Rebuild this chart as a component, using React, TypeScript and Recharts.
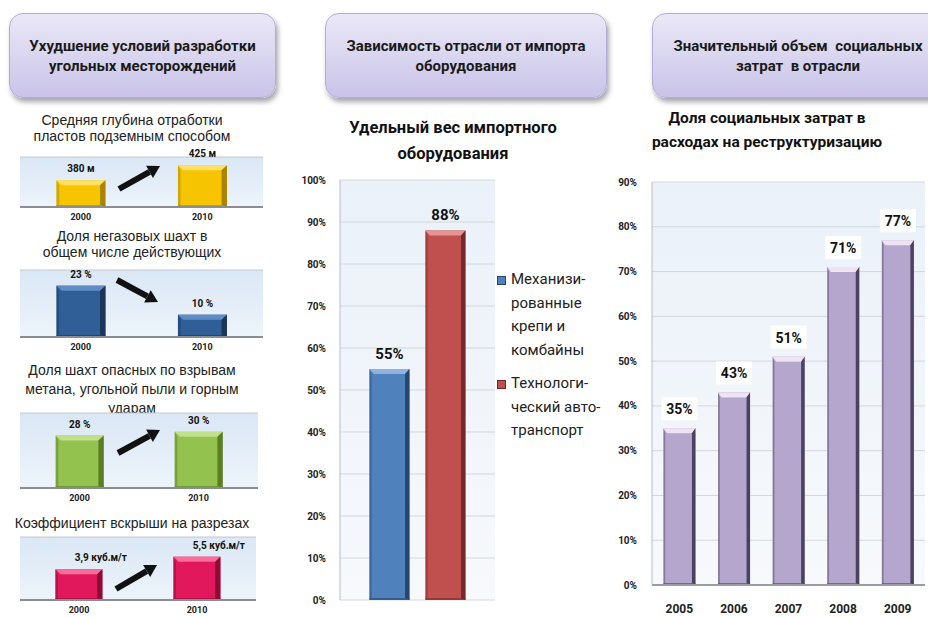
import React from "react";
import { BarChart, Bar, XAxis, YAxis, CartesianGrid, LabelList, Legend } from "recharts";

// --- mining conditions, 2000 vs 2010 ---
const pairYears = ["2000", "2010"];
const miningDepth = [380, 425]; // м
const nonGassyShare = [23, 10]; // %
const hazardousShare = [28, 30]; // %
const strippingRatio = [3.9, 5.5]; // куб.м/т

// --- import share of equipment ---
const importGroups = ["Оборудование"];
const mechanizedShare = [55];
const truckShare = [88];
const importTicks = [0, 10, 20, 30, 40, 50, 60, 70, 80, 90, 100];

// --- social costs in restructuring spend ---
const socialYears = ["2005", "2006", "2007", "2008", "2009"];
const socialShare = [35, 43, 51, 71, 77];
const socialTicks = [0, 10, 20, 30, 40, 50, 60, 70, 80, 90];

const headFont = "Roboto, 'Noto Sans', sans-serif";
const bodyFont = "'Liberation Sans', Arial, sans-serif";

type Tone = { base: string; dark: string; light: string };

const TONES: Record<string, Tone> = {
  gold: { base: "#f6c400", dark: "#a98400", light: "#ffe066" },
  navy: { base: "#305f98", dark: "#1a3659", light: "#5f8cc4" },
  green: { base: "#93c24f", dark: "#5a7d26", light: "#c0e08a" },
  pink: { base: "#e1195c", dark: "#8a0c34", light: "#f56d98" },
  blue: { base: "#4f81bd", dark: "#27466e", light: "#8fb2de" },
  red: { base: "#c0504d", dark: "#74282a", light: "#e29593" },
  lilac: { base: "#b5a6cd", dark: "#4b4160", light: "#efe2f3" },
};

// bar with bevelled edges, like Office 3D column
const bevel = (tone: Tone) => (p: any) => {
  const { x, y, width: w, height: h } = p;
  if (!h || h <= 0) return <g />;
  const e = Math.max(2, w * 0.11);
  const t = Math.min(5, h / 3);
  return (
    <g>
      <rect x={x} y={y} width={w} height={h} fill={tone.base} />
      <polygon points={`${x},${y} ${x + w},${y} ${x + w - e},${y + t} ${x + e},${y + t}`} fill={tone.light} />
      <polygon points={`${x + w},${y} ${x + w},${y + h} ${x + w - e},${y + h - 2} ${x + w - e},${y + t}`} fill={tone.dark} />
      <polygon points={`${x},${y} ${x + e * 0.5},${y + t} ${x + e * 0.5},${y + h - 2} ${x},${y + h}`} fill={tone.dark} opacity={0.45} />
      <rect x={x} y={y + h - 2} width={w} height={2} fill={tone.dark} opacity={0.6} />
    </g>
  );
};

const wall = (id: string, from: string, to: string) => (
  <defs>
    <linearGradient id={id} x1="0" y1="0" x2="0" y2="1">
      <stop offset="0%" stopColor={from} />
      <stop offset="100%" stopColor={to} />
    </linearGradient>
  </defs>
);

const box = (p: any) => {
  const vb = p.viewBox || {};
  return {
    x: (vb.x ?? p.x) as number,
    y: (vb.y ?? p.y) as number,
    w: (vb.width ?? p.width) as number,
  };
};

const valueLabel = (format: (v: number) => string, dx: number, size: number, gap: number) => (p: any) => {
  const { x, y, w } = box(p);
  return (
    <text x={x + w / 2 + dx} y={y - gap} textAnchor="middle" fontFamily={headFont} fontWeight={700} fontSize={size} fill="#111">
      {format(Number(p.value))}
    </text>
  );
};

const boxedLabel = (p: any) => {
  const { x, y, w } = box(p);
  const cx = x + w / 2;
  return (
    <g>
      <rect x={cx - 18} y={y - 31} width={36} height={23} fill="#fff" />
      <text x={cx} y={y - 14} textAnchor="middle" fontFamily={headFont} fontWeight={700} fontSize={14} fill="#111">
        {`${p.value}%`}
      </text>
    </g>
  );
};

const comma = (v: number) => String(v).replace(".", ",");

type MiniProps = {
  id: string;
  top: number;
  width: number;
  marginTop: number;
  plotHeight: number;
  values: number[];
  domain: [number, number];
  tone: Tone;
  format: (v: number) => string;
  labelDx?: number;
};

function MiniChart({ id, top, width, marginTop, plotHeight, values, domain, tone, format, labelDx = 0 }: MiniProps) {
  const data = pairYears.map((year, i) => ({ year, value: values[i] }));
  return (
    <div style={{ position: "absolute", left: 20, top }}>
      <BarChart
        width={width}
        height={marginTop + plotHeight + 18}
        data={data}
        margin={{ top: marginTop, right: 0, bottom: 0, left: 0 }}
        barCategoryGap="30%"
      >
        {wall(id, "#dae7f5", "#edf4fb")}
        <CartesianGrid vertical={false} stroke="#c4c9d0" fill={`url(#${id})`} />
        <XAxis
          dataKey="year"
          height={18}
          interval={0}
          tickLine={false}
          tickMargin={1}
          axisLine={{ stroke: "#8a8d92", strokeWidth: 2 }}
          tick={{ fontSize: 9, fontWeight: 700, fill: "#222", fontFamily: headFont }}
        />
        <YAxis width={0} domain={domain} ticks={[domain[1]]} tick={false} tickLine={false} axisLine={{ stroke: "#b2b6bc" }} />
        <YAxis
          yAxisId="edge"
          orientation="right"
          width={0}
          domain={[0, 1]}
          tick={false}
          tickLine={false}
          axisLine={{ stroke: "#8d9197", strokeWidth: 4 }}
        />
        <Bar dataKey="value" shape={bevel(tone)} isAnimationActive={false}>
          <LabelList dataKey="value" content={valueLabel(format, labelDx, 10, 8)} />
        </Bar>
      </BarChart>
    </div>
  );
}

function Header({ left, width, lines }: { left: number; width: number; lines: string[] }) {
  return (
    <div
      style={{
        position: "absolute",
        left,
        top: 13,
        width,
        height: 85,
        boxSizing: "border-box",
        borderRadius: 14,
        border: "1px solid #b2add6",
        background: "linear-gradient(#eae8f7, #c9c4e8)",
        boxShadow: "2px 4px 5px rgba(60,60,80,0.45)",
        display: "flex",
        flexDirection: "column",
        justifyContent: "center",
        alignItems: "center",
        fontFamily: headFont,
        fontWeight: 700,
        fontSize: 15,
        lineHeight: "20px",
        color: "#1a1a1a",
      }}
    >
      {lines.map((l) => (
        <div key={l} style={{ whiteSpace: "pre" }}>
          {l}
        </div>
      ))}
    </div>
  );
}

function Caption({ top, lines, lineHeight }: { top: number; lines: string[]; lineHeight: number }) {
  return (
    <div
      style={{
        position: "absolute",
        left: 0,
        top,
        width: 264,
        textAlign: "center",
        fontFamily: bodyFont,
        fontSize: 14,
        lineHeight: `${lineHeight}px`,
        color: "#222",
        whiteSpace: "nowrap",
      }}
    >
      {lines.map((l) => (
        <div key={l}>{l}</div>
      ))}
    </div>
  );
}

// thick black trend arrow between the two columns
function Arrow({ x1, y1, x2, y2 }: { x1: number; y1: number; x2: number; y2: number }) {
  const dx = x2 - x1;
  const dy = y2 - y1;
  const len = Math.hypot(dx, dy);
  const ux = dx / len;
  const uy = dy / len;
  const bx = x2 - ux * 12;
  const by = y2 - uy * 12;
  const nx = -uy * 7;
  const ny = ux * 7;
  return (
    <g>
      <line x1={x1} y1={y1} x2={bx} y2={by} stroke="#111" strokeWidth={6} />
      <polygon points={`${x2},${y2} ${bx + nx},${by + ny} ${bx - nx},${by - ny}`} fill="#111" />
    </g>
  );
}

const importSeries = [
  { key: "mech", values: mechanizedShare, tone: TONES.blue, lines: ["Механизи-", "рованные", "крепи и", "комбайны"] },
  { key: "tech", values: truckShare, tone: TONES.red, lines: ["Технологи-", "ческий авто-", "транспорт"] },
];

function ImportLegend() {
  return (
    <div style={{ fontFamily: headFont, fontSize: 15, lineHeight: "23.5px", color: "#222" }}>
      {importSeries.map((s, i) => (
        <div key={s.key} style={{ position: "relative", paddingLeft: 14, marginTop: i ? 10 : 0 }}>
          <span
            style={{
              position: "absolute",
              left: 0,
              top: 8,
              width: 7,
              height: 7,
              background: s.tone.base,
              border: `1px solid ${s.tone.dark}`,
            }}
          />
          {s.lines.map((l) => (
            <div key={l} style={{ whiteSpace: "pre" }}>
              {l}
            </div>
          ))}
        </div>
      ))}
    </div>
  );
}

export default function App() {
  const importData = importGroups.map((group, i) => ({
    group,
    mech: mechanizedShare[i],
    tech: truckShare[i],
  }));
  const socialData = socialYears.map((year, i) => ({ year, share: socialShare[i] }));
  const axisTick = { fontSize: 10, fontWeight: 700, fill: "#222", fontFamily: headFont };

  return (
    <div style={{ position: "absolute", left: 0, top: 0, width: 928, height: 617, overflow: "hidden", background: "#fff" }}>
      <Header left={9} width={267} lines={["Ухудшение условий разработки", "угольных месторождений"]} />
      <Header left={325} width={282} lines={["Зависимость отрасли от импорта", "оборудования"]} />
      <Header left={652} width={292} lines={["Значительный объем  социальных", "затрат  в отрасли"]} />

      <Caption top={112} lineHeight={16} lines={["Средняя глубина отработки", "пластов подземным способом"]} />
      <Caption top={228} lineHeight={16} lines={["Доля негазовых шахт в", "общем числе действующих"]} />
      <Caption top={361} lineHeight={19} lines={["Доля шахт опасных по взрывам", "метана, угольной пыли и горным", "ударам"]} />
      <Caption top={514} lineHeight={18} lines={["Коэффициент вскрыши на разрезах"]} />

      <MiniChart id="w1" top={142} width={243} marginTop={15} plotHeight={50} values={miningDepth} domain={[300, 450]} tone={TONES.gold} format={(v) => `${v} м`} />
      <MiniChart id="w2" top={262} width={243} marginTop={8} plotHeight={67} values={nonGassyShare} domain={[0, 30]} tone={TONES.navy} format={(v) => `${v} %`} />
      <MiniChart id="w3" top={405} width={238} marginTop={8} plotHeight={75} values={hazardousShare} domain={[0, 40]} tone={TONES.green} format={(v) => `${v} %`} />
      <MiniChart id="w4" top={529} width={236} marginTop={8} plotHeight={63} values={strippingRatio} domain={[0, 8]} tone={TONES.pink} format={(v) => `${comma(v)} куб.м/т`} labelDx={22} />

      <svg width={280} height={617} style={{ position: "absolute", left: 0, top: 0, pointerEvents: "none" }}>
        <Arrow x1={119} y1={189} x2={160} y2={166} />
        <Arrow x1={117} y1={280} x2={158} y2={302} />
        <Arrow x1={118} y1={453} x2={160} y2={430} />
        <Arrow x1={116} y1={589} x2={157} y2={565} />
      </svg>

      <div
        style={{
          position: "absolute",
          left: 290,
          top: 115,
          width: 326,
          textAlign: "center",
          fontFamily: headFont,
          fontWeight: 700,
          fontSize: 16.5,
          lineHeight: "26px",
          color: "#111",
        }}
      >
        Удельный вес импортного
        <br />
        оборудования
      </div>

      <div style={{ position: "absolute", left: 290, top: 170 }}>
        <BarChart
          width={330}
          height={447}
          data={importData}
          margin={{ top: 10, right: 125, bottom: 17, left: 0 }}
          barCategoryGap="19%"
          barGap={16}
        >
          {wall("wMid", "#eaf1f9", "#f7f9fc")}
          <CartesianGrid vertical={false} stroke="#d3d7dc" fill="url(#wMid)" />
          <XAxis dataKey="group" hide />
          <YAxis
            width={50}
            domain={[0, 100]}
            ticks={importTicks}
            tickFormatter={(v) => `${v}%`}
            tickLine={false}
            tickMargin={8}
            axisLine={{ stroke: "#b8bcc2" }}
            tick={axisTick}
          />
          <YAxis yAxisId="edge" orientation="right" width={0} domain={[0, 1]} tick={false} tickLine={false} axisLine={{ stroke: "#7f848a", strokeWidth: 4 }} />
          {importSeries.map((s) => (
            <Bar key={s.key} dataKey={s.key} fill={s.tone.base} shape={bevel(s.tone)} isAnimationActive={false}>
              <LabelList dataKey={s.key} content={valueLabel((v) => `${v}%`, 0, 15, 10)} />
            </Bar>
          ))}
          <Legend
            layout="vertical"
            align="center"
            verticalAlign="middle"
            content={() => <ImportLegend />}
            wrapperStyle={{ left: 207, top: 98, width: 120 }}
          />
        </BarChart>
      </div>

      <div
        style={{
          position: "absolute",
          left: 630,
          top: 106,
          width: 274,
          textAlign: "center",
          fontFamily: headFont,
          fontWeight: 700,
          fontSize: 15.5,
          lineHeight: "24px",
          color: "#111",
          whiteSpace: "nowrap",
        }}
      >
        Доля социальных затрат в
        <br />
        расходах на реструктуризацию
      </div>

      <div style={{ position: "absolute", left: 600, top: 172 }}>
        <BarChart
          width={328}
          height={445}
          data={socialData}
          margin={{ top: 10, right: 3, bottom: 0, left: 0 }}
          barCategoryGap="21%"
        >
          {wall("wSoc", "#eaf1f9", "#f7f9fc")}
          <CartesianGrid vertical={false} stroke="#d3d7dc" fill="url(#wSoc)" />
          <XAxis
            dataKey="year"
            height={32}
            interval={0}
            tickLine={false}
            tickMargin={13}
            axisLine={{ stroke: "#9a9ea4", strokeWidth: 2 }}
            tick={{ ...axisTick, fontSize: 12 }}
          />
          <YAxis
            width={52}
            domain={[0, 90]}
            ticks={socialTicks}
            tickFormatter={(v) => `${v}%`}
            tickLine={false}
            tickMargin={9}
            axisLine={{ stroke: "#b8bcc2" }}
            tick={axisTick}
          />
          <YAxis yAxisId="edge" orientation="right" width={0} domain={[0, 1]} tick={false} tickLine={false} axisLine={{ stroke: "#7f848a", strokeWidth: 4 }} />
          <Bar dataKey="share" fill={TONES.lilac.base} shape={bevel(TONES.lilac)} isAnimationActive={false}>
            <LabelList dataKey="share" content={boxedLabel} />
          </Bar>
        </BarChart>
      </div>
    </div>
  );
}
